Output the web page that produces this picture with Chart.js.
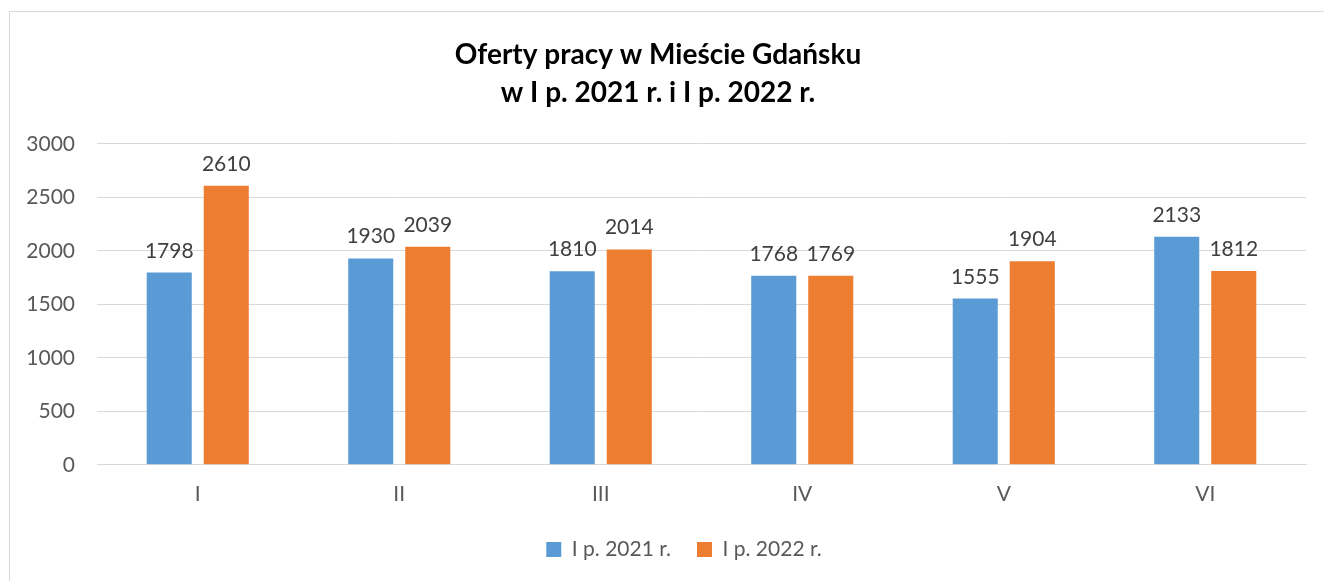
<!DOCTYPE html>
<html>
<head>
    <meta charset="utf-8">
    <title>Oferty pracy w Mieście Gdańsku</title>
    <style>
        body { margin: 0; background: white; overflow: hidden; width: 1324px; height: 581px; }
        .frame { position: absolute; left: 9px; top: 11px; width: 1324px; height: 590px; border: 1px solid #d9d9d9; }
        canvas { display: block; }
    </style>
</head>
<body>
    <div class="frame">
        <canvas id="jobsChart" width="1324" height="590"></canvas>
    </div>

    <script src="https://cdn.jsdelivr.net/npm/chart.js"></script>
    <script>
        const months = ['I', 'II', 'III', 'IV', 'V', 'VI'];
        const offers2021 = [1798, 1930, 1810, 1768, 1555, 2133];
        const offers2022 = [2610, 2039, 2014, 1769, 1904, 1812];
        const seriesNames = ['I p. 2021 r.', 'I p. 2022 r.'];
        const titleLines = ['Oferty pracy w Mieście Gdańsku', 'w I p. 2021 r. i I p. 2022 r.'];

        const FONT = 'Lato, "Noto Sans", sans-serif';

        // value labels above each bar
        const barLabels = {
            id: 'barLabels',
            afterDatasetsDraw(chart) {
                const ctx = chart.ctx;
                ctx.save();
                ctx.font = '21px ' + FONT;
                ctx.fillStyle = '#404040';
                ctx.textAlign = 'center';
                ctx.textBaseline = 'alphabetic';
                chart.data.datasets.forEach((ds, i) => {
                    chart.getDatasetMeta(i).data.forEach((bar, j) => {
                        ctx.fillText(String(ds.data[j]), bar.x, bar.y - 15);
                    });
                });
                ctx.restore();
            }
        };

        // legend sits a bit right of centre in the original
        const legendShift = {
            id: 'legendShift',
            afterLayout(chart) {
                chart.legend.left += 26;
                chart.legend.right += 26;
            }
        };

        new Chart(document.getElementById('jobsChart'), {
            type: 'bar',
            data: {
                labels: months,
                datasets: [
                    { label: seriesNames[0], data: offers2021, backgroundColor: '#5b9bd5' },
                    { label: seriesNames[1], data: offers2022, backgroundColor: '#ed7d31' }
                ]
            },
            options: {
                responsive: false,
                animation: false,
                categoryPercentage: 0.566,
                barPercentage: 0.79,
                layout: { padding: { left: 0, right: 28, top: 0, bottom: 32 } },
                plugins: {
                    title: {
                        display: true,
                        text: titleLines,
                        color: '#000',
                        font: { family: FONT, size: 28, weight: 'bold', lineHeight: 1.357 },
                        padding: { top: 24, bottom: 32 }
                    },
                    legend: {
                        position: 'bottom',
                        labels: {
                            boxWidth: 15,
                            boxHeight: 15,
                            padding: 26,
                            color: '#595959',
                            font: { family: FONT, size: 21 }
                        }
                    },
                    tooltip: { enabled: false }
                },
                scales: {
                    x: {
                        afterFit(scale) { scale.height -= 11; },
                        grid: { display: false, drawTicks: false },
                        border: { display: true, color: '#d9d9d9' },
                        ticks: { color: '#595959', font: { family: FONT, size: 21 }, padding: 17 }
                    },
                    y: {
                        min: 0,
                        max: 3000,
                        afterFit(scale) { scale.width = 87; },
                        grid: { color: '#d9d9d9', drawTicks: false },
                        border: { display: false },
                        ticks: {
                            stepSize: 500,
                            color: '#595959',
                            font: { family: FONT, size: 21 },
                            padding: 22,
                            callback: v => String(v)
                        }
                    }
                }
            },
            plugins: [barLabels, legendShift]
        });
    </script>
</body>
</html>
